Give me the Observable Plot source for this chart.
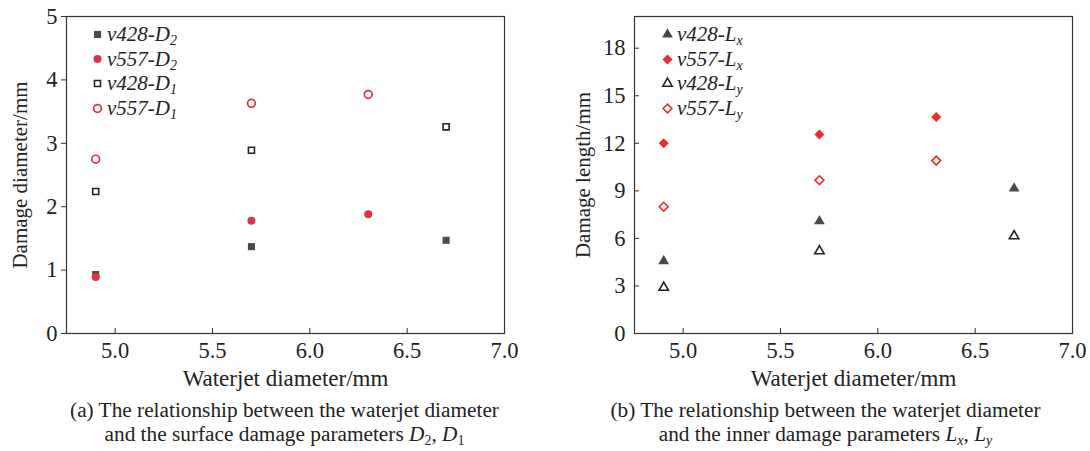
<!DOCTYPE html>
<html>
<head>
<meta charset="utf-8">
<script src="https://cdn.jsdelivr.net/npm/d3@7"></script>
<script src="https://cdn.jsdelivr.net/npm/@observablehq/plot@0.6"></script>
<style>
  html, body { margin: 0; padding: 0; background: #fff; }
  #wrap { position: relative; width: 1090px; height: 451px; overflow: hidden; font-family: "Liberation Serif", "Times New Roman", serif; color: #222; }
  .panel { position: absolute; top: 0; width: 545px; height: 395px; }
  .panel svg { display: block; }
  .legend { position: absolute; font-style: italic; font-size: 21px; line-height: 21px; color: #222; }
  .legend div { position: absolute; white-space: nowrap; transform: translateY(-50%); }
  .legend sub { font-size: 14px; vertical-align: -4px; line-height: 0; }
  .caption { position: absolute; top: 398px; width: 545px; text-align: center; font-size: 21.3px; line-height: 24px; color: #222; }
  .caption sub { font-size: 14px; vertical-align: -4px; line-height: 0; }
</style>
</head>
<body>
<div id="wrap"></div>
<script>
// ---------- data ----------
const jetA = [4.9, 5.7, 6.7];   // v428 series waterjet diameters
const jetB = [4.9, 5.7, 6.3];   // v557 series waterjet diameters
const v428D2 = [0.93, 1.37, 1.47];
const v557D2 = [0.89, 1.78, 1.88];
const v428D1 = [2.24, 2.89, 3.26];
const v557D1 = [2.75, 3.63, 3.77];
const v428Lx = [4.57, 7.09, 9.15];
const v557Lx = [12.0, 12.55, 13.66];
const v428Ly = [2.90, 5.20, 6.15];
const v557Ly = [8.00, 9.67, 10.91];
const xTicks = [5.0, 5.5, 6.0, 6.5, 7.0];
const yTicksA = [0, 1, 2, 3, 4, 5];
const yTicksB = [0, 3, 6, 9, 12, 15, 18];

const GRAY = "#4a4a4a", RED = "#dc3444", RED2 = "#ee2a2a";
const pts = (xs, ys) => xs.map((x, i) => ({x, y: ys[i]}));

const wrap = document.getElementById("wrap");

function panel(opts) {
  const {left, mL, mR, yDomain, yTicks, yLabel, yLabelDx, inwardY, series, legendX, legendRows} = opts;
  const marks = [
    Plot.frame({stroke: "#333", strokeWidth: 1.2}),
    Plot.axisX({ticks: xTicks, tickSize: -5, text: null, label: null, stroke: "#333"}),
    Plot.axisX({ticks: xTicks, tickSize: 0, tickPadding: 9, tickFormat: d => d.toFixed(1), label: null, fontSize: 22.5, fill: "#222"}),
    Plot.axisY({ticks: yTicks, tickSize: inwardY ? -5 : 5, text: null, label: null, stroke: "#333"}),
    Plot.axisY({ticks: yTicks, tickSize: 0, tickPadding: 9, tickFormat: d => String(d), label: null, fontSize: 22.5, fill: "#222"}),
    Plot.text(["Waterjet diameter/mm"], {frameAnchor: "bottom", dy: 45, text: d => d, textAnchor: "middle", lineAnchor: "middle", fontSize: 23, fill: "#222"}),
    Plot.text([yLabel], {frameAnchor: "left", dx: yLabelDx, rotate: -90, text: d => d, textAnchor: "middle", lineAnchor: "middle", fontSize: 21, fill: "#222"})
  ];
  for (const s of series) {
    marks.push(Plot.dot(s.data, {x: "x", y: "y", symbol: s.symbol, r: s.r, fill: s.fill, stroke: s.stroke, strokeWidth: s.sw || 1}));
  }
  legendRows.forEach((yy, i) => {
    const s = series[i];
    marks.push(Plot.dot([0], {frameAnchor: "top-left", dx: legendX - mL, dy: yy - 16, symbol: s.symbol, r: s.r, fill: s.fill, stroke: s.stroke, strokeWidth: s.sw || 1}));
  });
  const chart = Plot.plot({
    width: 545, height: 395,
    marginLeft: mL, marginRight: mR, marginTop: 16, marginBottom: 62,
    style: {fontFamily: "Liberation Serif, Times New Roman, serif", background: "white", overflow: "visible"},
    x: {domain: [4.75, 7.0]},
    y: {domain: yDomain},
    marks
  });
  const div = document.createElement("div");
  div.className = "panel";
  div.style.left = left + "px";
  div.appendChild(chart);
  wrap.appendChild(div);
}

// panel (a)
panel({
  left: 0, mL: 66, mR: 41, yDomain: [0, 5], yTicks: yTicksA, yLabel: "Damage diameter/mm", yLabelDx: -46, inwardY: false,
  series: [
    {data: pts(jetA, v428D2), symbol: "square", r: 4, fill: GRAY, stroke: "none"},
    {data: pts(jetB, v557D2), symbol: "circle", r: 4, fill: RED, stroke: "none"},
    {data: pts(jetA, v428D1), symbol: "square", r: 3.4, fill: "none", stroke: "#222", sw: 1.6},
    {data: pts(jetB, v557D1), symbol: "circle", r: 3.9, fill: "none", stroke: RED, sw: 1.7}
  ],
  legendX: 97, legendRows: [34, 58.5, 83, 108]
});

// panel (b)
panel({
  left: 545, mL: 89, mR: 18, yDomain: [0, 20], yTicks: yTicksB, yLabel: "Damage length/mm", yLabelDx: -51, inwardY: true,
  series: [
    {data: pts(jetA, v428Lx), symbol: "triangle", r: 4.0, fill: GRAY, stroke: "none"},
    {data: pts(jetB, v557Lx), symbol: "diamond2", r: 4.5, fill: RED2, stroke: "none"},
    {data: pts(jetA, v428Ly), symbol: "triangle", r: 3.5, fill: "none", stroke: "#222", sw: 1.6},
    {data: pts(jetB, v557Ly), symbol: "diamond2", r: 4.0, fill: "none", stroke: RED2, sw: 1.6}
  ],
  legendX: 667 - 545, legendRows: [34, 59, 83, 108]
});

// legends (text)
function legend(left, rows, labels) {
  const lg = document.createElement("div");
  lg.className = "legend";
  lg.style.left = left + "px";
  lg.style.top = "0px";
  rows.forEach((yy, i) => {
    const d = document.createElement("div");
    d.style.top = yy + "px";
    d.style.left = "0px";
    d.innerHTML = labels[i];
    lg.appendChild(d);
  });
  wrap.appendChild(lg);
}
legend(107, [34, 58.5, 83, 108], ["v428-D<sub>2</sub>", "v557-D<sub>2</sub>", "v428-D<sub>1</sub>", "v557-D<sub>1</sub>"]);
legend(677, [34, 59, 83, 108], ["v428-L<sub>x</sub>", "v557-L<sub>x</sub>", "v428-L<sub>y</sub>", "v557-L<sub>y</sub>"]);

// captions
function caption(left, html) {
  const c = document.createElement("div");
  c.className = "caption";
  c.style.left = left + "px";
  c.innerHTML = html;
  wrap.appendChild(c);
}
caption(12, "(a) The relationship between the waterjet diameter<br>and the surface damage parameters <i>D</i><sub>2</sub>, <i>D</i><sub>1</sub>");
caption(553, "(b) The relationship between the waterjet diameter<br>and the inner damage parameters <i>L<sub>x</sub></i>, <i>L<sub>y</sub></i>");
</script>
</body>
</html>
